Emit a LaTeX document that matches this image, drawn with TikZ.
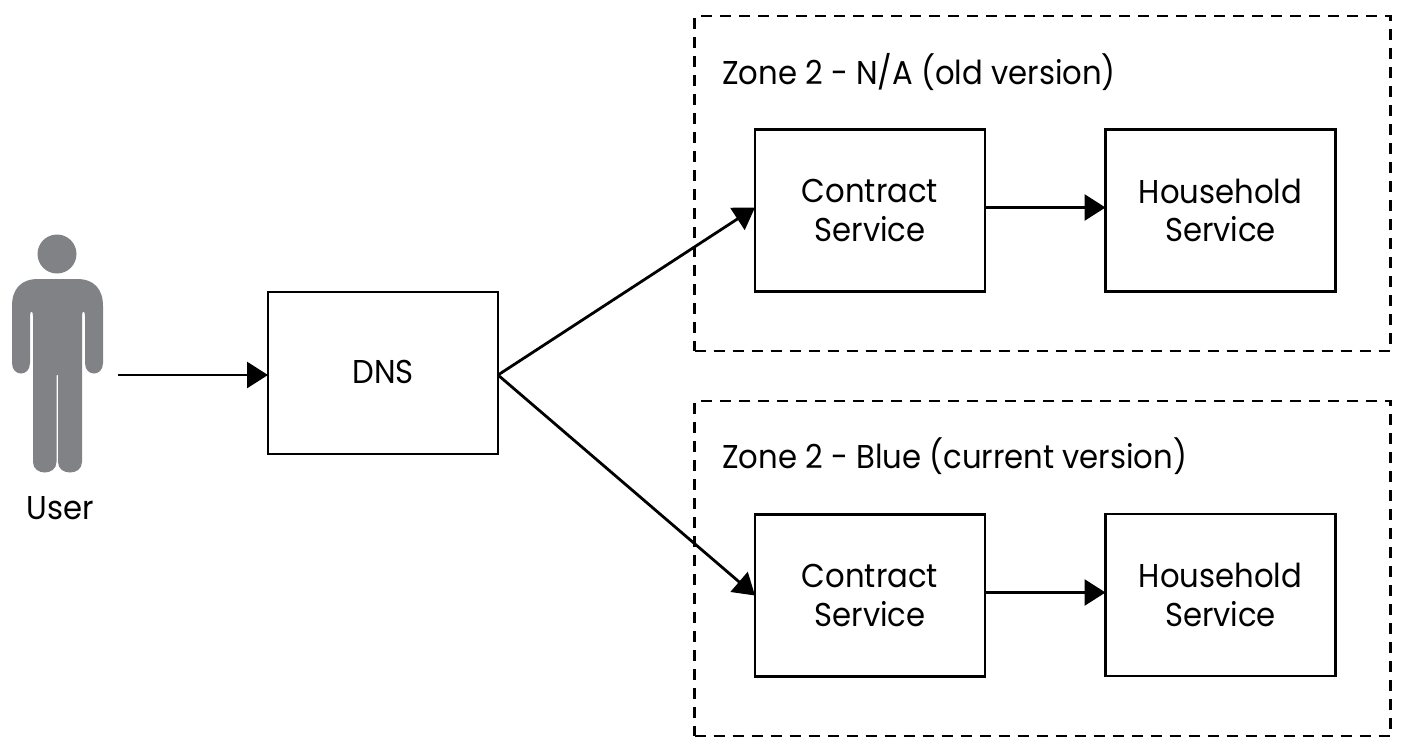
\documentclass[tikz,border=0pt]{standalone}
\usepackage{fontspec}
\setmainfont[FakeStretch=0.93]{Poppins}
\usetikzlibrary{arrows.meta}
\definecolor{persongray}{HTML}{808285}
\tikzset{
 x=1pt,y=-1pt,
 svc/.style={draw=black,line width=2.8pt,fill=white,minimum width=230pt,minimum height=162pt,inner sep=0pt,outer sep=0pt,align=center,font=\fontsize{33}{38.5}\selectfont},
 zone/.style={draw=black,line width=2.4pt,dash pattern=on 11pt off 8pt,minimum width=696pt,minimum height=335pt,inner sep=0pt},
 zonelabel/.style={anchor=west,inner sep=0pt,font=\fontsize{33}{38}\selectfont},
 lbl/.style={inner sep=0pt,font=\fontsize{33}{38}\selectfont},
 conn/.style={draw=black,line width=2.8pt,-{Triangle[length=21pt,width=26pt]},shorten >=0pt},
}
\begin{document}
\begin{tikzpicture}
\useasboundingbox (0,0) rectangle (1402,750);
\node[zone] (z1) at (1042.5,183.5) {};
\node[zone] (z2) at (1042.5,568.5) {};
\node[zonelabel] (z1l) at (722,72) {Zone 2 - N/A (old version)};
\node[zonelabel] (z2l) at (722,456) {Zone 2 - Blue (current version)};
\node[svc] (dns) at (383,373) {\raisebox{2pt}{DNS}};
\node[svc] (c1) at (870,210.5) {Contract\\Service};
\node[svc] (h1) at (1220.5,210.5) {Household\\Service};
\node[svc] (c2) at (870,595.5) {Contract\\Service};
\node[svc] (h2) at (1220.5,595) {Household\\Service};
\fill[persongray] (57,254) circle (19.5);
\fill[persongray,rounded corners=0pt]
 (38,279) .. controls (45,279) and (69,279) .. (77,279)
 .. controls (94,279) and (103,289) .. (103,306)
 -- (103,363) .. controls (103,377) and (85,377) .. (85,363)
 -- (85,316) .. controls (85,310) and (82,310) .. (82,316)
 -- (82,462) .. controls (82,476) and (58,476) .. (58,462)
 -- (58,375) -- (56.5,375) -- (56.5,462)
 .. controls (56.5,476) and (33,476) .. (33,462)
 -- (33,316) .. controls (33,310) and (30,310) .. (30,316)
 -- (30,363) .. controls (30,377) and (12,377) .. (12,363)
 -- (12,306) .. controls (12,289) and (21,279) .. (38,279) -- cycle;
\node[lbl] (user) at (60,508) {User};
\coordinate (ustart) at (118,375);
\coordinate (dnsin) at (dns.west |- ustart);
\draw[conn] (ustart) -- (dnsin);
\coordinate (dnsout) at (dns.east |- ustart);
\draw[conn] (dnsout) -- ([yshift=3pt]c1.west);
\draw[conn] (dnsout) -- (c2.west);
\draw[conn] (c1.east) ++(0,-3) coordinate (c1o) -- (h1.west |- c1o);
\draw[conn] (c2.east) ++(0,-3) coordinate (c2o) -- (h2.west |- c2o);
\end{tikzpicture}
\end{document}
